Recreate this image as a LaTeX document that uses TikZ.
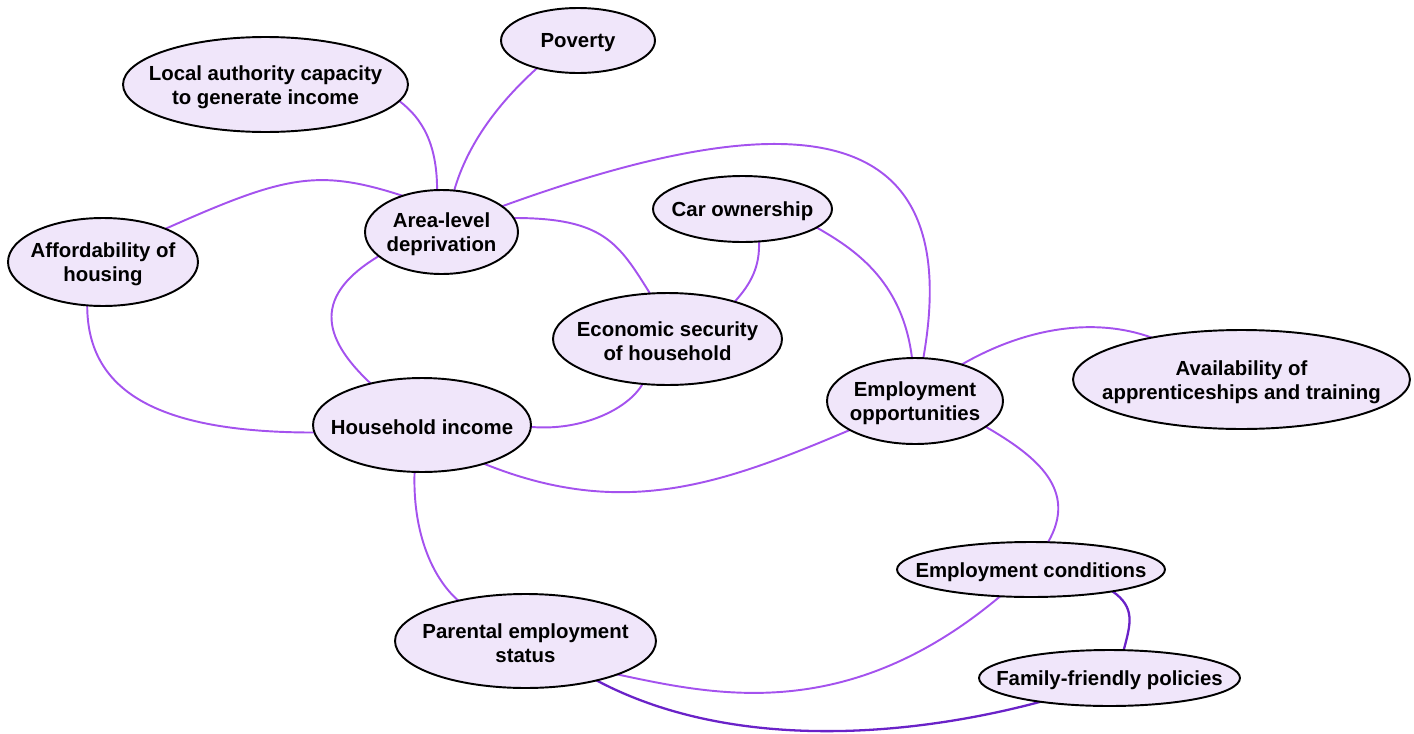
\documentclass[tikz,border=0pt]{standalone}
\usepackage{fontspec}
\setmainfont{Liberation Sans}
\usetikzlibrary{shapes.geometric,backgrounds}
\definecolor{nodefill}{HTML}{F0E6FA}
\definecolor{linklight}{HTML}{A452EE}
\definecolor{linkdark}{HTML}{6A22C8}
\tikzset{
  factor/.style={ellipse, draw=black, line width=1.1pt, fill=nodefill, inner sep=0pt, outer sep=0pt},
  lbl/.style={font=\fontsize{11.6}{13.6}\selectfont\bfseries, align=center, inner sep=0pt, yshift=-0.05cm},
  link/.style={draw=linklight, line width=1.1pt},
  darklink/.style={draw=linkdark, line width=1.3pt}
}
\begin{document}
\begin{tikzpicture}[x=0.02cm,y=0.02cm]
\useasboundingbox (0,0) rectangle (1414,-734);
\node[factor, minimum width=3.08cm, minimum height=1.30cm, label={[lbl]center:Poverty}] (pov) at (578,-40.5) {};
\node[factor, minimum width=5.70cm, minimum height=1.90cm, label={[lbl]center:{Local authority capacity\\to generate income}}] (la) at (265.5,-84.5) {};
\node[factor, minimum width=3.06cm, minimum height=1.68cm, label={[lbl]center:{Area-level\\deprivation}}] (area) at (441.5,-232) {};
\node[factor, minimum width=3.80cm, minimum height=1.76cm, label={[lbl]center:{Affordability of\\housing}}] (aff) at (103,-262) {};
\node[factor, minimum width=3.58cm, minimum height=1.32cm, label={[lbl]center:Car ownership}] (car) at (742.5,-209) {};
\node[factor, minimum width=4.58cm, minimum height=1.84cm, label={[lbl]center:{Economic security\\of household}}] (econ) at (667.5,-339) {};
\node[factor, minimum width=4.36cm, minimum height=1.88cm, label={[lbl]center:Household income}] (hh) at (422,-425) {};
\node[factor, minimum width=3.52cm, minimum height=1.72cm, label={[lbl]center:{Employment\\opportunities}}] (emp) at (915,-401) {};
\node[factor, minimum width=6.74cm, minimum height=1.98cm, label={[lbl]center:{Availability of\\apprenticeships and training}}] (avail) at (1241.5,-379.5) {};
\node[factor, minimum width=5.36cm, minimum height=1.10cm, label={[lbl]center:Employment conditions}] (cond) at (1031,-569.5) {};
\node[factor, minimum width=5.22cm, minimum height=1.12cm, label={[lbl]center:Family-friendly policies}] (fam) at (1109.5,-678) {};
\node[factor, minimum width=5.22cm, minimum height=1.88cm, label={[lbl]center:{Parental employment\\status}}] (par) at (525.5,-641) {};
\begin{pgfonlayer}{background}
\draw[link] (la.-7) to[out=-37,in=90,out distance=0.6cm,in distance=0.9cm] (area.96);
\draw[link] (pov.214) to[out=222,in=74,out distance=1cm,in distance=1cm] (area.73);
\draw[link] (aff.28) to[out=24,in=162,out distance=2.6cm,in distance=1.8cm] (area.137);
\draw[link] (area.23) to[out=20,in=80,out distance=6.4cm,in distance=4.8cm] (emp.79);
\draw[link] (area.11) to[out=0,in=122,out distance=1.8cm,in distance=1.2cm] (econ.111);
\draw[link] (area.201) to[out=211,in=137,out distance=1.5cm,in distance=1.4cm] (hh.141);
\draw[link] (aff.250) to[out=270,in=180,out distance=1.8cm,in distance=3cm] (hh.184);
\draw[link] (car.-63) to[out=-88,in=48,out distance=0.5cm,in distance=0.5cm] (econ.29);
\draw[link] (car.-14) to[out=-30,in=97,out distance=0.8cm,in distance=1.6cm] (emp.94);
\draw[link] (econ.241) to[out=240,in=-5,out distance=0.6cm,in distance=1cm] (hh.-1);
\draw[link] (hh.-32) to[out=-22,in=203,out distance=3cm,in distance=2.8cm] (emp.204);
\draw[link] (hh.261) to[out=268,in=139,out distance=1.2cm,in distance=0.7cm] (par.149);
\draw[link] (emp.38) to[out=30,in=160,out distance=1.5cm,in distance=1.2cm] (avail.155);
\draw[link] (emp.-20) to[out=-30,in=60,out distance=1.2cm,in distance=1.2cm] (cond.58);
\draw[link] (cond.221) to[out=220,in=-12,out distance=4cm,in distance=2cm] (par.-20);
\draw[darklink] (cond.-15) to[out=-35,in=75,out distance=0.56cm,in distance=0.56cm] (fam.63);
\draw[darklink] (par.-29) to[out=-28,in=195,out distance=3cm,in distance=2.8cm] (fam.199);
\end{pgfonlayer}
\end{tikzpicture}
\end{document}
